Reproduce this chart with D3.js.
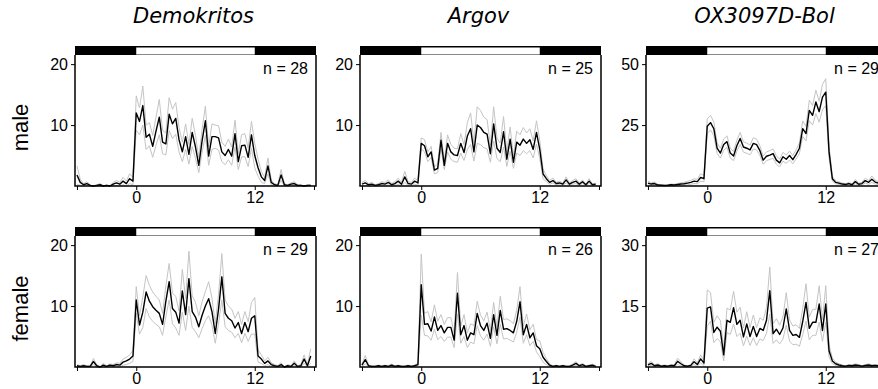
<!DOCTYPE html>
<html>
<head>
<meta charset="utf-8">
<script src="https://cdn.jsdelivr.net/npm/d3@7"></script>
<style>
  body { margin: 0; background: #fff; }
  svg { display: block; }
  text { font-family: "Liberation Sans", Arial, sans-serif; fill: #000; }
  .title { font-family: "DejaVu Sans", sans-serif; font-style: italic; font-size: 21px; }
  .rowlab { font-size: 22px; }
  .nlab { font-size: 16px; }
  .tick text { font-size: 16px; font-family: "Liberation Sans", Arial, sans-serif; }
</style>
</head>
<body>
<div id="chart"></div>
<script>
// 20-min bins, from 6 h before lights-on to 18 h (ZT)
const binHours = d3.range(72).map(i => -6 + i / 3);

const strains = ['Demokritos', 'Argov', 'OX3097D-Bol'];
const sexes = ['male', 'female'];
const nCounts = [[28, 25, 29], [29, 26, 27]];
const yTickValues = [[10, 20], [10, 20], [25, 50], [10, 20], [10, 20], [15, 30]];
const xTickValues = [-6, 0, 12, 18];
const xTickLabels = ['', '0', '12', ''];
const lightOn = 0, lightOff = 12;

// male
const demokritosMaleMean = [
  1.8, 0.6, 0.2, 0.4, 0.1, 0.0, 0.1, 0.2, 0.0, 0.1, 0.0, 0.3, 0.5, 0.3, 0.8, 0.4, 1.2, 0.8,
  12.0, 10.6, 13.2, 8.0, 8.5, 6.5, 9.0, 11.3, 7.2, 6.9, 11.8, 10.2,
  11.1, 7.6, 5.6, 8.1, 5.2, 8.8, 6.4, 3.4, 7.4, 10.7, 4.9, 8.1,
  8.1, 7.9, 5.6, 5.0, 6.0, 4.9, 8.6, 4.0, 6.6, 6.7, 4.7, 8.4,
  5.0, 3.0, 1.5, 0.9, 3.3, 0.6, 0.2, 0.1, 1.8, 0.2, 0.1, 0.3, 0.4, 0.1, 0.1, 0.0, 0.1, 0.1];
const demokritosMaleSem = [
  1.5, 0.5, 0.2, 0.3, 0.1, 0.0, 0.1, 0.2, 0.0, 0.1, 0.0, 0.3, 0.4, 0.3, 0.6, 0.4, 0.8, 0.6,
  2.8, 2.2, 3.2, 2.0, 1.9, 1.8, 2.3, 2.9, 1.9, 1.8, 2.7, 2.4,
  2.6, 2.0, 1.6, 2.1, 1.6, 2.3, 1.9, 1.2, 1.9, 2.4, 1.5, 2.1,
  1.9, 2.0, 1.6, 1.5, 1.7, 1.5, 2.2, 1.3, 1.8, 1.9, 1.5, 2.2,
  2.0, 1.4, 0.9, 0.5, 1.3, 0.4, 0.2, 0.1, 0.9, 0.2, 0.1, 0.2, 0.3, 0.1, 0.1, 0.0, 0.1, 0.1];

const argovMaleMean = [
  0.3, 0.5, 0.2, 0.3, 0.1, 0.2, 0.4, 0.3, 0.6, 0.2, 0.4, 0.8, 0.3, 1.5, 0.4, 0.3, 0.8, 0.5,
  7.0, 6.6, 4.8, 5.6, 2.6, 2.9, 7.5, 3.4, 7.0, 5.6, 5.1, 5.0,
  7.0, 5.5, 8.2, 9.4, 5.6, 10.0, 9.6, 8.8, 8.5, 5.3, 10.2, 6.2,
  5.5, 8.9, 4.4, 7.7, 3.9, 7.2, 6.7, 7.7, 7.0, 7.6, 6.0, 8.8,
  6.0, 2.0, 1.2, 0.6, 0.9, 0.4, 0.5, 0.3, 1.0, 0.3, 0.6, 0.8, 0.3, 0.7, 0.2, 0.8, 0.2, 0.3];
const argovMaleSem = [
  0.3, 0.4, 0.2, 0.3, 0.1, 0.2, 0.3, 0.3, 0.4, 0.2, 0.3, 0.5, 0.3, 0.9, 0.3, 0.3, 0.5, 0.4,
  0.9, 1.0, 0.8, 0.9, 0.6, 0.7, 1.3, 0.7, 1.4, 1.2, 1.1, 1.1,
  1.6, 1.3, 2.2, 2.6, 1.5, 3.0, 2.8, 2.5, 2.4, 1.4, 2.8, 1.7,
  1.5, 2.5, 1.2, 2.0, 1.0, 1.8, 1.7, 1.9, 1.7, 1.8, 1.4, 1.9,
  1.5, 0.8, 0.5, 0.3, 0.4, 0.2, 0.3, 0.2, 0.5, 0.2, 0.3, 0.4, 0.2, 0.3, 0.1, 0.4, 0.1, 0.2];

const oxMaleMean = [
  1.2, 0.8, 1.0, 0.4, 0.3, 0.2, 0.3, 0.5, 0.4, 0.6, 0.8, 0.9, 1.2, 1.5, 2.0, 1.8, 3.5, 3.0,
  24.5, 26.0, 23.5, 15.5, 13.5, 17.0, 18.2, 13.5, 12.3, 16.5, 19.5, 16.0,
  15.5, 14.8, 17.5, 17.0, 14.5, 10.6, 12.2, 12.7, 13.3, 10.6, 9.5, 12.0,
  11.0, 12.5, 10.8, 13.0, 15.5, 23.5, 21.5, 31.0, 29.0, 34.5, 30.5, 36.5,
  38.5, 14.0, 3.0, 1.5, 1.2, 0.8, 0.6, 1.0, 0.5, 1.8, 0.7, 1.0, 2.2, 1.5, 2.8, 1.6, 1.2, 1.0];
const oxMaleSem = [
  0.8, 0.5, 0.6, 0.3, 0.2, 0.2, 0.2, 0.3, 0.3, 0.4, 0.5, 0.6, 0.7, 0.8, 1.0, 0.9, 1.5, 1.3,
  3.0, 3.0, 2.8, 2.2, 2.0, 2.3, 2.4, 2.0, 1.9, 2.2, 2.5, 2.1,
  2.1, 2.0, 2.3, 2.2, 2.0, 1.7, 1.8, 1.8, 1.9, 1.7, 1.6, 1.8,
  1.7, 1.8, 1.7, 1.9, 2.2, 3.2, 3.0, 4.2, 4.0, 4.8, 4.3, 5.2,
  5.5, 2.5, 1.0, 0.6, 0.5, 0.4, 0.3, 0.5, 0.3, 0.9, 0.4, 0.6, 1.0, 0.8, 1.3, 0.8, 0.6, 0.5];

// female
const demokritosFemaleMean = [
  0.2, 0.1, 0.2, 0.1, 0.1, 0.9, 0.2, 0.0, 0.3, 0.1, 0.3, 0.2, 0.4, 0.3, 0.8, 1.0, 1.3, 1.8,
  11.0, 6.9, 9.0, 12.3, 10.8, 9.9, 9.3, 8.8, 7.0, 10.8, 14.0, 9.6,
  9.0, 7.2, 12.5, 8.6, 14.5, 9.1, 8.2, 6.6, 8.5, 10.0, 11.2, 9.1,
  5.5, 9.5, 14.8, 8.8, 8.0, 7.6, 6.4, 7.3, 5.5, 7.3, 5.8, 8.0,
  8.4, 1.8, 1.3, 0.6, 1.0, 0.4, 0.2, 0.1, 0.4, 0.0, 0.2, 0.1, 0.6, 0.1, 0.2, 1.3, 0.2, 1.8];
const demokritosFemaleSem = [
  0.2, 0.1, 0.2, 0.1, 0.1, 0.5, 0.2, 0.0, 0.3, 0.1, 0.2, 0.2, 0.3, 0.3, 0.5, 0.6, 0.7, 0.9,
  2.2, 1.5, 2.5, 2.7, 2.6, 2.4, 2.3, 2.2, 1.8, 2.5, 3.0, 2.5,
  2.6, 2.0, 3.5, 2.6, 4.5, 2.6, 2.4, 1.8, 2.2, 2.4, 2.8, 2.2,
  1.6, 2.4, 3.8, 2.2, 2.0, 1.9, 1.6, 1.8, 1.5, 1.8, 1.6, 2.6,
  3.0, 1.0, 0.7, 0.4, 0.6, 0.3, 0.2, 0.1, 0.3, 0.0, 0.2, 0.1, 0.4, 0.1, 0.2, 0.7, 0.2, 1.2];

const argovFemaleMean = [
  0.3, 1.2, 0.2, 0.1, 0.1, 0.2, 0.1, 0.2, 0.1, 0.3, 0.1, 0.2, 0.1, 0.1, 0.2, 0.1, 0.2, 0.4,
  13.5, 7.0, 7.1, 5.9, 8.2, 6.0, 6.8, 5.6, 6.5, 6.5, 4.4, 12.1,
  5.3, 6.8, 4.4, 5.6, 5.3, 8.8, 6.8, 6.0, 7.2, 4.7, 8.6, 5.2,
  9.3, 6.2, 6.3, 6.0, 5.6, 7.5, 10.7, 5.3, 7.0, 4.8, 5.6, 3.5,
  3.0, 1.6, 0.9, 0.3, 0.1, 0.2, 0.1, 0.2, 0.1, 0.1, 0.3, 0.6, 0.2, 0.4, 0.1, 0.2, 0.3, 0.1];
const argovFemaleSem = [
  0.2, 0.7, 0.1, 0.1, 0.1, 0.1, 0.1, 0.1, 0.1, 0.2, 0.1, 0.1, 0.1, 0.1, 0.1, 0.1, 0.1, 0.2,
  5.0, 1.8, 2.0, 1.5, 2.0, 1.5, 1.8, 1.4, 1.6, 1.6, 1.2, 3.4,
  1.4, 1.8, 1.2, 1.5, 1.5, 2.0, 1.7, 1.6, 1.8, 1.3, 2.0, 1.4,
  2.3, 1.6, 1.6, 1.6, 1.5, 1.8, 2.5, 1.4, 1.7, 1.3, 1.4, 1.0,
  1.3, 0.8, 0.5, 0.2, 0.1, 0.1, 0.1, 0.1, 0.1, 0.1, 0.2, 0.3, 0.1, 0.2, 0.1, 0.1, 0.2, 0.1];

const oxFemaleMean = [
  0.5, 0.9, 0.3, 0.5, 0.2, 0.3, 0.2, 0.4, 0.3, 1.4, 0.8, 0.3, 0.2, 0.4, 1.3, 0.6, 2.0, 1.0,
  14.5, 14.8, 8.5, 9.8, 8.8, 3.0, 11.5, 11.0, 14.6, 10.5, 11.5, 7.4,
  10.6, 7.5, 10.0, 7.5, 9.5, 9.0, 11.5, 18.8, 8.2, 9.3, 8.0, 9.6,
  14.3, 9.0, 7.8, 8.0, 7.3, 11.2, 15.9, 9.5, 11.0, 11.0, 15.5, 9.0,
  15.5, 4.0, 1.5, 0.8, 0.5, 0.3, 0.2, 0.4, 0.3, 0.5, 0.4, 0.2, 0.4, 0.5, 0.3, 0.4, 0.3, 0.4];
const oxFemaleSem = [
  0.3, 0.5, 0.2, 0.3, 0.1, 0.2, 0.1, 0.2, 0.2, 0.8, 0.5, 0.2, 0.1, 0.2, 0.7, 0.4, 1.0, 0.6,
  4.5, 3.5, 2.5, 2.8, 2.6, 1.5, 3.0, 3.0, 4.0, 3.0, 3.2, 2.2,
  3.0, 2.2, 2.8, 2.2, 2.6, 2.5, 3.2, 5.8, 2.4, 2.6, 2.3, 2.7,
  4.0, 2.6, 2.3, 2.4, 2.2, 3.2, 4.6, 2.8, 3.2, 3.2, 4.5, 2.7,
  4.5, 1.5, 0.7, 0.4, 0.3, 0.2, 0.1, 0.2, 0.2, 0.3, 0.2, 0.1, 0.2, 0.3, 0.2, 0.2, 0.2, 0.2];

const panelMeans = [demokritosMaleMean, argovMaleMean, oxMaleMean,
                    demokritosFemaleMean, argovFemaleMean, oxFemaleMean];
const panelSems = [demokritosMaleSem, argovMaleSem, oxMaleSem,
                   demokritosFemaleSem, argovFemaleSem, oxFemaleSem];

panelMeans.forEach((a, i) => {
  if (a.length !== 72 || panelSems[i].length !== 72)
    throw new Error('panel ' + i + ' length ' + a.length + '/' + panelSems[i].length);
});

const width = 878, height = 389;
const colLeft = [75, 360, 646];
const rowTop = [55, 236];
const pw = 241, ph = 131, barH = 9;

const svg = d3.select('#chart').append('svg')
  .attr('width', width).attr('height', height);

const x = d3.scaleLinear().domain([-6.2, 18.2]).range([0, pw]);

// strain titles
strains.forEach((s, c) => {
  svg.append('text').attr('class', 'title')
    .attr('x', colLeft[c] + pw / 2 - 2).attr('y', 23)
    .attr('text-anchor', 'middle').text(s);
});

// sex labels
sexes.forEach((s, r) => {
  const cy = rowTop[r] + ph / 2 + 7;
  svg.append('text').attr('class', 'rowlab')
    .attr('transform', `translate(28,${cy}) rotate(-90)`)
    .attr('text-anchor', 'middle').text(s);
});

sexes.forEach((sex, r) => {
  strains.forEach((strain, c) => {
    const idx = r * 3 + c;
    const ticks = yTickValues[idx];
    const y = d3.scaleLinear().domain([0, ticks[1] * 1.075]).range([ph, 0]);
    const rows = binHours.map((t, i) => ({ t: t, m: panelMeans[idx][i], s: panelSems[idx][i] }));

    const g = svg.append('g')
      .attr('transform', `translate(${colLeft[c]},${rowTop[r]})`);

    // light/dark bar
    g.append('rect').attr('x', 0).attr('y', -barH).attr('width', pw).attr('height', barH)
      .attr('fill', '#000');
    g.append('rect').attr('x', x(lightOn)).attr('y', -barH + 1.5)
      .attr('width', x(lightOff) - x(lightOn)).attr('height', barH - 2.5)
      .attr('fill', '#fff');
    g.append('line').attr('x1', x(lightOn)).attr('x2', x(lightOff))
      .attr('y1', -0.5).attr('y2', -0.5).attr('stroke', '#888').attr('stroke-width', 1.2);

    // SEM lines
    const upper = d3.line().x(d => x(d.t)).y(d => y(d.m + d.s));
    const lower = d3.line().x(d => x(d.t)).y(d => y(Math.max(0, d.m - d.s)));
    const mean = d3.line().x(d => x(d.t)).y(d => y(d.m));
    g.append('path').datum(rows).attr('d', upper)
      .attr('fill', 'none').attr('stroke', '#c4c4c4').attr('stroke-width', 1);
    g.append('path').datum(rows).attr('d', lower)
      .attr('fill', 'none').attr('stroke', '#c4c4c4').attr('stroke-width', 1);
    g.append('path').datum(rows).attr('d', mean)
      .attr('fill', 'none').attr('stroke', '#000').attr('stroke-width', 1.4)
      .attr('stroke-linejoin', 'round');

    // frame (left, bottom, right)
    g.append('path').attr('d', `M0,0V${ph}H${pw}V0`)
      .attr('fill', 'none').attr('stroke', '#000').attr('stroke-width', 1.5);

    // axes
    const xAxis = g.append('g').attr('transform', `translate(0,${ph})`)
      .call(d3.axisBottom(x).tickValues(xTickValues)
        .tickFormat((d, i) => xTickLabels[i]).tickSize(4).tickPadding(2).tickSizeOuter(0));
    xAxis.select('.domain').remove();

    const yAxis = g.append('g')
      .call(d3.axisLeft(y).tickValues(ticks).tickSize(4).tickPadding(3).tickSizeOuter(0));
    yAxis.select('.domain').remove();

    // n label
    g.append('text').attr('class', 'nlab')
      .attr('x', pw - 8).attr('y', 19).attr('text-anchor', 'end')
      .text('n = ' + nCounts[r][c]);
  });
});
</script>
</body>
</html>
